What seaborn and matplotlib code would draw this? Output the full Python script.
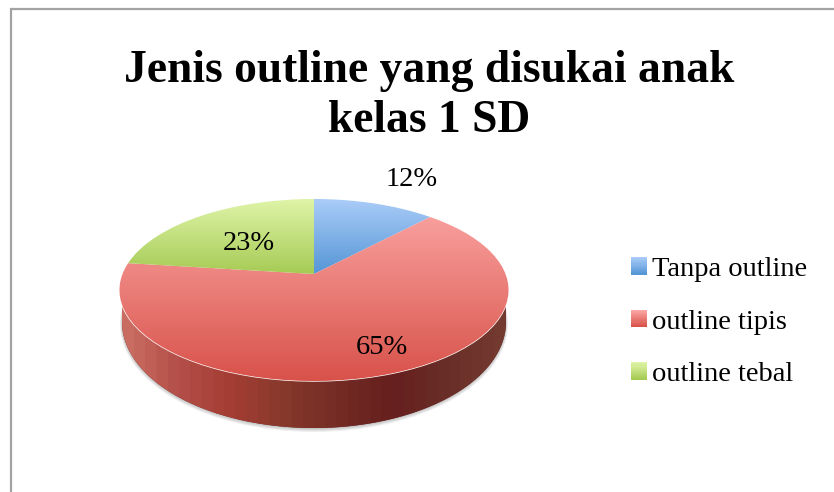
import numpy as np
import matplotlib
matplotlib.use("Agg")
import matplotlib.pyplot as plt
import seaborn as sns
from matplotlib.patches import Polygon, Rectangle
from matplotlib.transforms import Transform, Affine2D
from matplotlib.legend_handler import HandlerBase

categories = ["Tanpa outline", "outline tipis", "outline tebal"]
values = [12, 65, 23]
title_text = "Jenis outline yang disukai anak\nkelas 1 SD"

top_colors = ["#AACCF8", "#FCA7A5", "#DFF4A8"]
bottom_colors = ["#5596D6", "#D8524A", "#A6CB55"]
side_colors = ["#C96C62", "#B24D47", "#A33D33", "#85382B", "#732B24", "#661F1E", "#6A2E28", "#733A30"]

sns.set_theme(style="white")
plt.rcParams["font.family"] = ["Liberation Serif", "DejaVu Serif"]

W, H = 834, 492
fig = plt.figure(figsize=(W / 100, H / 100), dpi=100, facecolor="white")
ax = fig.add_axes([0, 0, 1, 1])

CX, CY = 314.0, 290.0
RY, APEX = 91.0, 16.0
RX_IN = 191.5
K = APEX * 2 / (2 * RY)
A = RY


class Tilt(Transform):
    """Perspective view of the unit-circle pie, mapped to pixels of the axes."""
    input_dims = output_dims = 2
    is_separable = False
    has_inverse = False

    def transform_non_affine(self, xy):
        xy = np.asarray(xy, float)
        d = 1 + K * xy[:, 1]
        return np.column_stack([CX + RX_IN * xy[:, 0] / d,
                                CY - (A * xy[:, 1] + APEX) / d])


# soft shadow below the disc
BX, BY, BRX, BRY = 314.0, 322.0, 192.0, 106.0
for grow, alpha in [(4.0, 0.10), (2.8, 0.16), (1.6, 0.22), (0.6, 0.30)]:
    sh, _ = ax.pie([1], colors=["#555555"], radius=1)
    sh[0].set_transform(Affine2D().scale(BRX + grow * 0.5, BRY + grow * 0.5)
                        .translate(BX, BY + grow * 0.5) + ax.transData)
    sh[0].set_alpha(alpha)
    sh[0].set_zorder(1)

# side wall
t = np.linspace(0, np.pi, 160)
side_pts = np.column_stack([BX - BRX * np.cos(t), BY + BRY * np.sin(t)])
side_pts = np.vstack([[BX - BRX, CY], side_pts, [BX + BRX, CY]])
side_patch = Polygon(side_pts, closed=True, fc="#7A2E28", ec="none", zorder=2)
ax.add_patch(side_patch)
side_cmap = sns.blend_palette(side_colors, 64, as_cmap=True)
band = np.floor(np.linspace(0, 1, 512) * 34) / 33
im = ax.imshow(band[None, :], extent=(BX - BRX, BX + BRX, 430, 285), aspect="auto",
               cmap=side_cmap, vmin=0, vmax=1, zorder=2.1)
im.set_clip_path(side_patch)

# top face
wedges, _, pct = ax.pie(values, colors=bottom_colors, startangle=90, counterclock=False,
                        autopct="%.0f%%", radius=1, textprops=dict(fontsize=20.5, color="black"))
tilt = Tilt()
pct_pos = [(412, 179.5), (382, 347), (249, 244)]
grad_span = [(199, 274), (199, 381), (199, 274)]
for w, txt, pos, span, c0, c1 in zip(wedges, pct, pct_pos, grad_span, top_colors, bottom_colors):
    w.set_transform(tilt + ax.transData)
    w.set_zorder(3)
    cmap = sns.blend_palette([c0, c1], 64, as_cmap=True)
    g = ax.imshow(np.linspace(0, 1, 256)[:, None], extent=(110, 520, span[1], span[0]),
                  aspect="auto", cmap=cmap, vmin=0, vmax=1, zorder=3.1)
    g.set_clip_path(w)
    txt.set_position(pos)
    txt.set_ha("center")
    txt.set_va("center")
    txt.set_zorder(5)


class GradientHandler(HandlerBase):
    def create_artists(self, legend, orig, xd, yd, width, height, fontsize, trans):
        c0, c1 = orig.get_gid().split("|")
        pal = sns.blend_palette([c0, c1], 16)
        out = []
        for i, col in enumerate(pal):
            y = -yd + height * (1 - (i + 1) / 16)
            out.append(Rectangle((-xd, y), width, height / 16 + 0.2, fc=col, ec="none", transform=trans))
        return out


handles = []
for c0, c1 in zip(top_colors, bottom_colors):
    h = Rectangle((0, 0), 1, 1)
    h.set_gid(c0 + "|" + c1)
    handles.append(h)
leg = ax.legend(handles, categories, handler_map={Rectangle: GradientHandler()},
                loc="upper left", bbox_to_anchor=(631 / W, 1 - 257 / H), bbox_transform=ax.transAxes,
                frameon=False, fontsize=20.5, borderpad=0, borderaxespad=0,
                labelspacing=0.97, handlelength=0.56, handleheight=0.56, handletextpad=0.18)
for tx in leg.get_texts():
    tx.set_color("black")

ax.text(429, 95.5, title_text, ha="center", va="center", fontsize=32.8, fontweight="bold",
        color="black", linespacing=1.25, zorder=6)

# chart-area border: top and left edges only are in view
ax.plot([11, 11, W], [H, 9, 9], color="#A3A3A3", lw=1.6, solid_joinstyle="miter", zorder=6)

ax.set_aspect("auto")
ax.set_xlim(0, W)
ax.set_ylim(H, 0)
ax.axis("off")
fig.savefig("out.png", dpi=100, facecolor="white")
